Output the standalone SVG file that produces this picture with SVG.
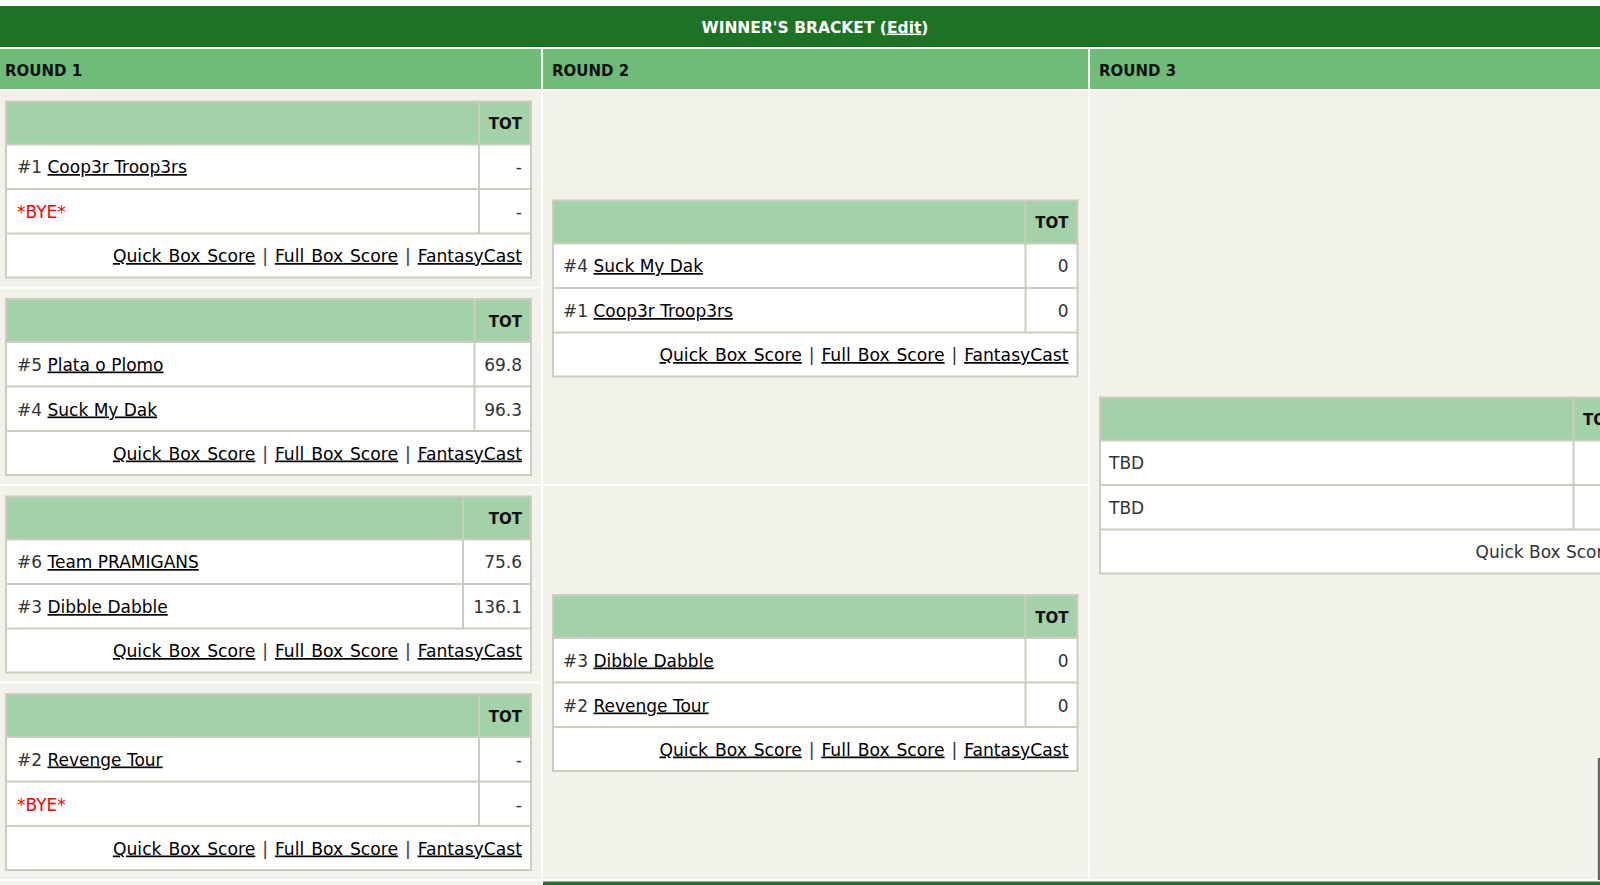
<svg xmlns="http://www.w3.org/2000/svg" width="1600" height="885" viewBox="0 0 1600 885">
<style>
.bg{fill:#f2f2ea}
.bd{fill:#ccccbf}
.hd{fill:#a3d2a8}
.w{fill:#ffffff}
.title{font:bold 15.5px "DejaVu Sans",Verdana,sans-serif;fill:#ffffff;text-anchor:middle}
.rh{font:bold 15px "DejaVu Sans",Verdana,sans-serif;fill:#111111}
.th{font:bold 15px "DejaVu Sans",Verdana,sans-serif;fill:#111111;text-anchor:end}
.th3{font:bold 15px "DejaVu Sans",Verdana,sans-serif;fill:#111111}
.t{font:17px "DejaVu Sans",Verdana,sans-serif;fill:#333333}
.sc{text-anchor:end}
.ft{text-anchor:end;font-size:17.2px;word-spacing:1.4px}
.a{fill:#000000;text-decoration:underline}
.bye{fill:#ff0000}
</style>
<rect width="1600" height="885" fill="#ffffff"/>
<g id="header">
<rect x="0" y="6" width="1600" height="41" fill="#1e7225"/>
<rect x="0" y="46" width="1600" height="1" fill="#166a1c"/>
<text class="title" x="815" y="32.5">WINNER'S BRACKET (<tspan style="text-decoration:underline">Edit</tspan>)</text>
<rect x="0" y="49" width="541" height="40" fill="#6ebc77"/>
<rect x="543" y="49" width="545" height="40" fill="#6ebc77"/>
<rect x="1090" y="49" width="510" height="40" fill="#6ebc77"/>
<text class="rh" x="5" y="76">ROUND 1</text>
<text class="rh" x="552" y="76">ROUND 2</text>
<text class="rh" x="1099" y="76">ROUND 3</text>
</g>
<g id="columns">
<rect class="bg" x="0" y="91" width="541" height="195.5"/>
<rect class="bg" x="0" y="288.5" width="541" height="195.5"/>
<rect class="bg" x="0" y="486" width="541" height="195.5"/>
<rect class="bg" x="0" y="683.5" width="541" height="195.5"/>
<rect class="bg" x="0" y="881" width="541" height="4"/>
<rect class="bg" x="543" y="91" width="545" height="393"/>
<rect class="bg" x="543" y="486" width="545" height="393"/>
<rect class="bg" x="1090" y="91" width="510" height="788"/>
<rect x="543" y="881.5" width="1057" height="3.5" fill="#1e7225"/>
<rect x="1597" y="758" width="1" height="122" fill="#dcdcdc"/>
<rect x="1598" y="758" width="2" height="122" fill="#666666"/>
</g>
<g id="r1m1" transform="translate(5,100.5)">
<rect class="bd" width="527" height="178"/>
<rect class="hd" x="2" y="2" width="471" height="41"/><rect class="hd" x="475" y="2" width="50" height="41"/>
<rect class="w" x="2" y="45" width="471" height="42.5"/><rect class="w" x="475" y="45" width="50" height="42.5"/>
<rect class="w" x="2" y="89.5" width="471" height="42.5"/><rect class="w" x="475" y="89.5" width="50" height="42.5"/>
<rect class="w" x="2" y="134" width="523" height="42"/>
<text class="th" x="517" y="28.5">TOT</text>
<text class="t" x="12" y="72.5">#1 <tspan class="a">Coop3r Troop3rs</tspan></text>
<text class="t sc" x="517" y="72.5">-</text>
<text class="t bye" x="12" y="117.5">*BYE*</text>
<text class="t sc" x="517" y="117.5">-</text>
<text class="t ft" x="517" y="161.5"><tspan class="a">Quick Box Score</tspan> | <tspan class="a">Full Box Score</tspan> | <tspan class="a">FantasyCast</tspan></text>
</g>
<g id="r1m2" transform="translate(5,298)">
<rect class="bd" width="527" height="178"/>
<rect class="hd" x="2" y="2" width="466.5" height="41"/><rect class="hd" x="470.5" y="2" width="54.5" height="41"/>
<rect class="w" x="2" y="45" width="466.5" height="42.5"/><rect class="w" x="470.5" y="45" width="54.5" height="42.5"/>
<rect class="w" x="2" y="89.5" width="466.5" height="42.5"/><rect class="w" x="470.5" y="89.5" width="54.5" height="42.5"/>
<rect class="w" x="2" y="134" width="523" height="42"/>
<text class="th" x="517" y="28.5">TOT</text>
<text class="t" x="12" y="72.5">#5 <tspan class="a">Plata o Plomo</tspan></text>
<text class="t sc" x="517" y="72.5">69.8</text>
<text class="t" x="12" y="117.5">#4 <tspan class="a">Suck My Dak</tspan></text>
<text class="t sc" x="517" y="117.5">96.3</text>
<text class="t ft" x="517" y="161.5"><tspan class="a">Quick Box Score</tspan> | <tspan class="a">Full Box Score</tspan> | <tspan class="a">FantasyCast</tspan></text>
</g>
<g id="r1m3" transform="translate(5,495.5)">
<rect class="bd" width="527" height="178"/>
<rect class="hd" x="2" y="2" width="455" height="41"/><rect class="hd" x="459" y="2" width="66" height="41"/>
<rect class="w" x="2" y="45" width="455" height="42.5"/><rect class="w" x="459" y="45" width="66" height="42.5"/>
<rect class="w" x="2" y="89.5" width="455" height="42.5"/><rect class="w" x="459" y="89.5" width="66" height="42.5"/>
<rect class="w" x="2" y="134" width="523" height="42"/>
<text class="th" x="517" y="28.5">TOT</text>
<text class="t" x="12" y="72.5">#6 <tspan class="a">Team PRAMIGANS</tspan></text>
<text class="t sc" x="517" y="72.5">75.6</text>
<text class="t" x="12" y="117.5">#3 <tspan class="a">Dibble Dabble</tspan></text>
<text class="t sc" x="517" y="117.5">136.1</text>
<text class="t ft" x="517" y="161.5"><tspan class="a">Quick Box Score</tspan> | <tspan class="a">Full Box Score</tspan> | <tspan class="a">FantasyCast</tspan></text>
</g>
<g id="r1m4" transform="translate(5,693)">
<rect class="bd" width="527" height="178"/>
<rect class="hd" x="2" y="2" width="471" height="41"/><rect class="hd" x="475" y="2" width="50" height="41"/>
<rect class="w" x="2" y="45" width="471" height="42.5"/><rect class="w" x="475" y="45" width="50" height="42.5"/>
<rect class="w" x="2" y="89.5" width="471" height="42.5"/><rect class="w" x="475" y="89.5" width="50" height="42.5"/>
<rect class="w" x="2" y="134" width="523" height="42"/>
<text class="th" x="517" y="28.5">TOT</text>
<text class="t" x="12" y="72.5">#2 <tspan class="a">Revenge Tour</tspan></text>
<text class="t sc" x="517" y="72.5">-</text>
<text class="t bye" x="12" y="117.5">*BYE*</text>
<text class="t sc" x="517" y="117.5">-</text>
<text class="t ft" x="517" y="161.5"><tspan class="a">Quick Box Score</tspan> | <tspan class="a">Full Box Score</tspan> | <tspan class="a">FantasyCast</tspan></text>
</g>
<g id="r2m1" transform="translate(552,199.5)">
<rect class="bd" width="526.5" height="178"/>
<rect class="hd" x="2" y="2" width="470.5" height="41"/><rect class="hd" x="474.5" y="2" width="50" height="41"/>
<rect class="w" x="2" y="45" width="470.5" height="42.5"/><rect class="w" x="474.5" y="45" width="50" height="42.5"/>
<rect class="w" x="2" y="89.5" width="470.5" height="42.5"/><rect class="w" x="474.5" y="89.5" width="50" height="42.5"/>
<rect class="w" x="2" y="134" width="522.5" height="42"/>
<text class="th" x="516.5" y="28.5">TOT</text>
<text class="t" x="11" y="72.5">#4 <tspan class="a">Suck My Dak</tspan></text>
<text class="t sc" x="516.5" y="72.5">0</text>
<text class="t" x="11" y="117.5">#1 <tspan class="a">Coop3r Troop3rs</tspan></text>
<text class="t sc" x="516.5" y="117.5">0</text>
<text class="t ft" x="516.5" y="161.5"><tspan class="a">Quick Box Score</tspan> | <tspan class="a">Full Box Score</tspan> | <tspan class="a">FantasyCast</tspan></text>
</g>
<g id="r2m2" transform="translate(552,594)">
<rect class="bd" width="526.5" height="178"/>
<rect class="hd" x="2" y="2" width="470.5" height="41"/><rect class="hd" x="474.5" y="2" width="50" height="41"/>
<rect class="w" x="2" y="45" width="470.5" height="42.5"/><rect class="w" x="474.5" y="45" width="50" height="42.5"/>
<rect class="w" x="2" y="89.5" width="470.5" height="42.5"/><rect class="w" x="474.5" y="89.5" width="50" height="42.5"/>
<rect class="w" x="2" y="134" width="522.5" height="42"/>
<text class="th" x="516.5" y="28.5">TOT</text>
<text class="t" x="11" y="72.5">#3 <tspan class="a">Dibble Dabble</tspan></text>
<text class="t sc" x="516.5" y="72.5">0</text>
<text class="t" x="11" y="117.5">#2 <tspan class="a">Revenge Tour</tspan></text>
<text class="t sc" x="516.5" y="117.5">0</text>
<text class="t ft" x="516.5" y="161.5"><tspan class="a">Quick Box Score</tspan> | <tspan class="a">Full Box Score</tspan> | <tspan class="a">FantasyCast</tspan></text>
</g>
<g id="r3m1" transform="translate(1099,396.5)">
<rect class="bd" width="520" height="178"/>
<rect class="hd" x="2" y="2" width="471.5" height="41"/><rect class="hd" x="475.5" y="2" width="50" height="41"/>
<rect class="w" x="2" y="45" width="471.5" height="42.5"/><rect class="w" x="475.5" y="45" width="50" height="42.5"/>
<rect class="w" x="2" y="89.5" width="471.5" height="42.5"/><rect class="w" x="475.5" y="89.5" width="50" height="42.5"/>
<rect class="w" x="2" y="134" width="520" height="42"/>
<text class="th3" x="484" y="28.5">TOT</text>
<text class="t" x="10" y="72.5">TBD</text>
<text class="t" x="10" y="117.5">TBD</text>
<text class="t" x="376.5" y="161.5">Quick Box Score</text>
</g>
</svg>
